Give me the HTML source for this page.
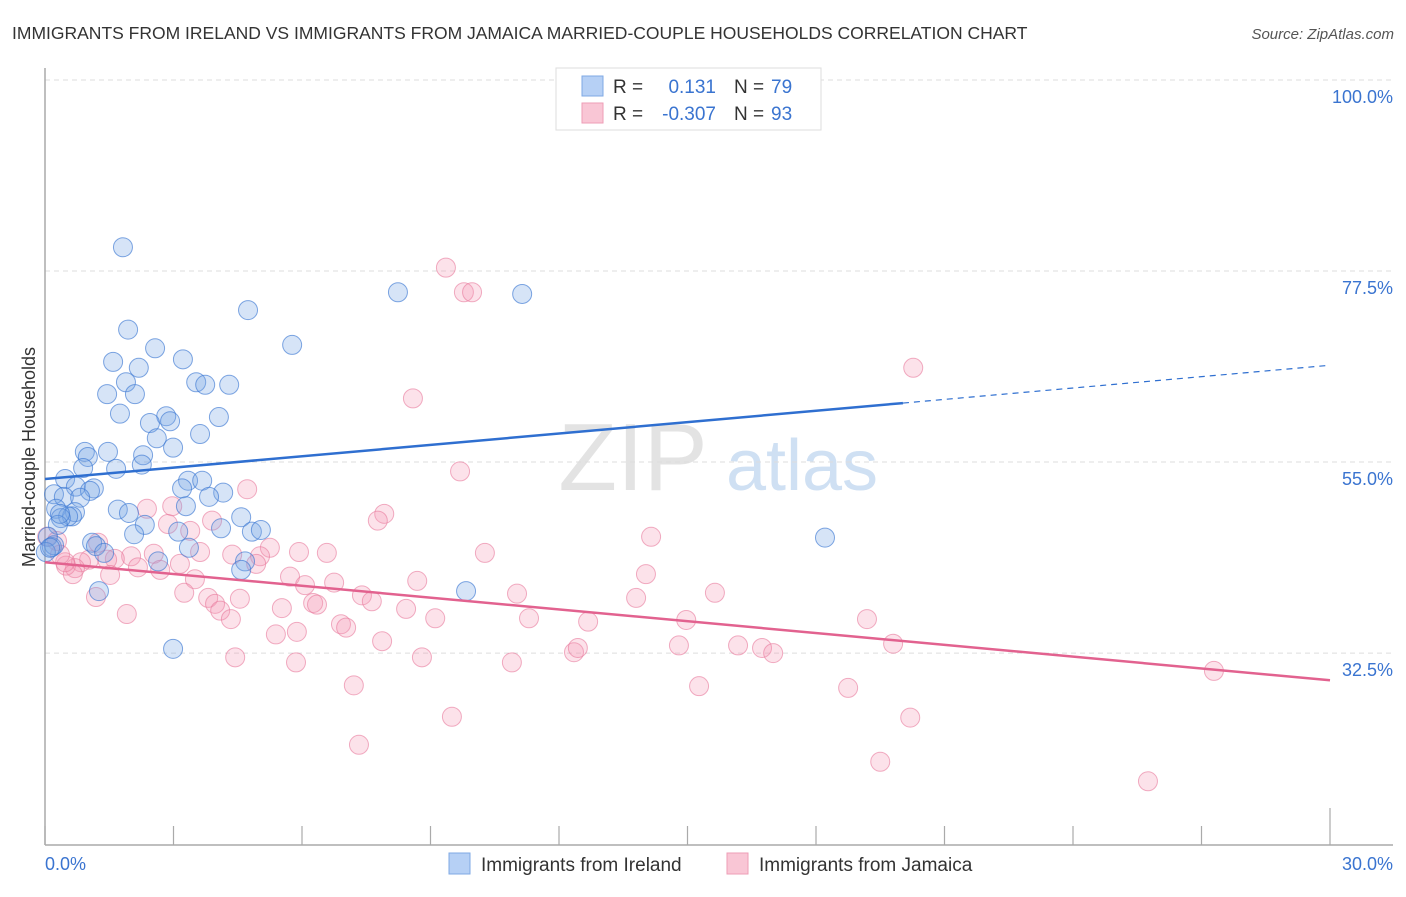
<!DOCTYPE html>
<html><head><meta charset="utf-8">
<style>
body{margin:0;background:#fff;font-family:"Liberation Sans",sans-serif;}
svg text{font-family:"Liberation Sans",sans-serif;}
</style></head>
<body>
<svg id="chart" width="1406" height="892" xmlns="http://www.w3.org/2000/svg">
<text x="12" y="39" font-size="17.5" fill="#333">IMMIGRANTS FROM IRELAND VS IMMIGRANTS FROM JAMAICA MARRIED-COUPLE HOUSEHOLDS CORRELATION CHART</text>
<text x="1394" y="39" font-size="15" fill="#555" text-anchor="end" font-style="italic">Source: ZipAtlas.com</text>
<text transform="translate(35,457) rotate(-90)" font-size="18" fill="#333" text-anchor="middle">Married-couple Households</text>
<g>
<text x="633" y="490" font-size="96" fill="#d8d8d8" font-family="Liberation Serif,serif" text-anchor="middle" opacity="0.7">ZIP</text>
<text x="802" y="490" font-size="72" fill="#bcd3ee" text-anchor="middle" opacity="0.7">atlas</text>
</g>
<g id="grid"></g>
<g id="axes"></g>
<g id="points"></g>
<g id="trends"></g>
<g>
<rect x="556" y="68" width="265" height="62" fill="#fff" stroke="#ddd"/>
<rect x="582" y="76" width="21" height="20" fill="#b6d0f5" stroke="#7fa9e4"/>
<rect x="582" y="103" width="21" height="20" fill="#f9c6d5" stroke="#ee9db6"/>
<text x="613" y="93" font-size="19" fill="#333">R =</text>
<text x="716" y="93" font-size="19" fill="#3a74d0" text-anchor="end">0.131</text>
<text x="734" y="93" font-size="19" fill="#333">N =</text>
<text x="771" y="93" font-size="19" fill="#3a74d0">79</text>
<text x="613" y="120" font-size="19" fill="#333">R =</text>
<text x="716" y="120" font-size="19" fill="#3a74d0" text-anchor="end">-0.307</text>
<text x="734" y="120" font-size="19" fill="#333">N =</text>
<text x="771" y="120" font-size="19" fill="#3a74d0">93</text>
</g>
<g>
<rect x="449" y="853" width="21" height="21" fill="#b6d0f5" stroke="#7fa9e4"/>
<text x="481" y="871" font-size="19" fill="#333">Immigrants from Ireland</text>
<rect x="727" y="853" width="21" height="21" fill="#f9c6d5" stroke="#ee9db6"/>
<text x="759" y="871" font-size="19" fill="#333">Immigrants from Jamaica</text>
</g>
</svg>
<script>
const yTicks=[100,77.5,55,32.5];
const yTickLabels=["100.0%","77.5%","55.0%","32.5%"];
const xTicks=[0,3,6,9,12,15,18,21,24,27,30];
const xEndLabels=["0.0%","30.0%"];
const irelandX=[1.82,4.74,8.24,11.14,1.94,5.77,2.57,3.22,1.59,2.19,1.89,3.53,3.74,4.30,1.45,2.10,1.75,2.83,2.92,2.45,4.06,3.62,2.61,0.93,1.47,2.99,2.29,1.00,0.89,1.66,2.26,0.47,3.34,3.67,0.72,1.14,1.05,3.20,0.21,0.44,4.16,3.83,0.82,3.29,1.70,1.96,0.26,0.70,0.63,0.54,0.37,4.58,0.30,2.33,4.11,3.11,4.83,5.04,2.08,0.07,1.10,1.19,3.36,1.38,0.16,0.21,4.67,2.64,4.58,9.83,1.26,2.99,18.21,0.02,0.12,0.35];
const irelandY=[80.3,72.9,75.0,74.8,70.6,68.8,68.4,67.1,66.8,66.1,64.4,64.4,64.1,64.1,63.0,63.0,60.7,60.4,59.8,59.6,60.3,58.3,57.8,56.2,56.2,56.7,55.8,55.6,54.3,54.2,54.7,53.0,52.8,52.8,52.1,51.9,51.6,51.9,51.2,50.9,51.4,50.9,50.8,49.8,49.4,49.0,49.5,49.1,48.6,48.6,48.4,48.5,47.6,47.6,47.2,46.8,46.8,47.0,46.5,46.2,45.5,45.1,44.9,44.3,45.0,45.2,43.3,43.3,42.3,39.8,39.8,33.0,46.1,44.4,44.9,48.9];
const jamaicaX=[9.36,9.78,9.97,20.27,8.59,9.69,4.72,2.38,2.97,7.92,7.77,14.15,0.05,0.28,3.90,2.87,3.39,5.93,6.58,10.27,5.25,5.02,4.37,3.62,2.54,2.01,1.63,1.24,1.03,1.45,0.84,0.70,0.49,0.65,1.52,2.17,2.69,3.15,3.50,4.93,5.72,6.07,6.75,8.69,14.03,0.47,0.35,1.19,1.91,3.25,3.81,3.97,4.55,7.40,7.63,6.26,6.35,8.43,11.02,13.80,15.64,4.09,4.34,5.53,9.11,11.30,12.68,14.97,19.19,5.39,5.88,6.91,7.03,7.87,8.80,10.90,12.35,12.44,14.80,16.18,16.74,17.00,19.80,4.44,5.86,27.29,7.21,15.27,18.75,9.50,20.20,7.33,19.50,25.75];
const jamaicaY=[77.9,75.0,75.0,66.1,62.5,53.9,51.8,49.5,49.8,48.9,48.1,46.2,46.2,45.7,48.1,47.7,46.9,44.4,44.3,44.3,44.9,43.9,44.1,44.4,44.2,43.9,43.6,45.5,43.5,43.5,43.2,42.5,42.8,41.8,41.7,42.6,42.3,43.0,41.2,43.0,41.5,40.5,40.8,41.0,41.8,43.2,44.1,39.1,37.1,39.6,39.0,38.3,38.9,39.3,38.6,38.4,38.2,37.7,39.5,39.0,39.6,37.5,36.5,37.8,36.6,36.6,36.2,36.4,36.5,34.7,35.0,35.9,35.5,33.9,32.0,31.4,32.6,33.1,33.4,33.4,33.1,32.5,33.6,32.0,31.4,30.4,28.7,28.6,28.4,25.0,24.9,21.7,19.7,17.4];
const irelandTrend=[53.0,66.4];
const jamaicaTrend=[43.2,29.3];
const irelandSolidEnd=20.03;

const NS="http://www.w3.org/2000/svg";
const X0=45,X1=1330,Y100=80,PXPER=8.49;
const sx=v=>X0+(v/30)*(X1-X0);
const sy=v=>Y100+(100-v)*PXPER;
function mk(tag,attrs,parent){const e=document.createElementNS(NS,tag);for(const k in attrs)e.setAttribute(k,attrs[k]);parent.appendChild(e);return e;}
const grid=document.getElementById('grid'),axes=document.getElementById('axes'),pts=document.getElementById('points'),tr=document.getElementById('trends');
yTicks.forEach((t,i)=>{
  const l=mk('line',{x1:X0,x2:1393,y1:sy(t),y2:sy(t),stroke:'#ddd','stroke-dasharray':'5,4'},grid);
  
  
  const tx=mk('text',{x:1393,y:sy(t)+23,'font-size':18,fill:'#3a74d0','text-anchor':'end'},grid);
  tx.textContent=yTickLabels[i];
  
  
});
const ya=mk('line',{x1:X0,x2:X0,y1:68,y2:845,stroke:'#aaa','stroke-width':1.5},axes);


const xa=mk('line',{x1:X0,x2:1393,y1:845,y2:845,stroke:'#aaa','stroke-width':1.5},axes);


xTicks.forEach((t,i)=>{
  const tk=mk('line',{x1:sx(t),x2:sx(t),y1:i===xTicks.length-1?808:826,y2:845,stroke:'#aaa','stroke-width':1.2},axes);
  
  
});
const xl0=mk('text',{x:45,y:870,'font-size':18,fill:'#3a74d0'},axes);xl0.textContent=xEndLabels[0];


const xl1=mk('text',{x:1393,y:870,'font-size':18,fill:'#3a74d0','text-anchor':'end'},axes);xl1.textContent=xEndLabels[1];


jamaicaX.forEach((x,i)=>{
  const c=mk('circle',{cx:sx(x),cy:sy(jamaicaY[i]),r:9.5,fill:'rgba(244,150,180,0.28)',stroke:'rgba(232,120,155,0.6)','stroke-width':1},pts);
  
  
});
irelandX.forEach((x,i)=>{
  const c=mk('circle',{cx:sx(x),cy:sy(irelandY[i]),r:9.5,fill:'rgba(120,165,230,0.3)',stroke:'rgba(60,120,210,0.65)','stroke-width':1},pts);
  
  
});
const by=x=>irelandTrend[0]+(irelandTrend[1]-irelandTrend[0])*x/30;
const bl=mk('line',{x1:sx(0),y1:sy(by(0)),x2:sx(irelandSolidEnd),y2:sy(by(irelandSolidEnd)),stroke:'#2f6fd0','stroke-width':2.5},tr);


const bd=mk('line',{x1:sx(irelandSolidEnd),y1:sy(by(irelandSolidEnd)),x2:sx(30),y2:sy(by(30)),stroke:'#2f6fd0','stroke-width':1.2,'stroke-dasharray':'6,5'},tr);


const pl=mk('line',{x1:sx(0),y1:sy(jamaicaTrend[0]),x2:sx(30),y2:sy(jamaicaTrend[1]),stroke:'#e2628f','stroke-width':2.5},tr);


</script>
</body></html>
